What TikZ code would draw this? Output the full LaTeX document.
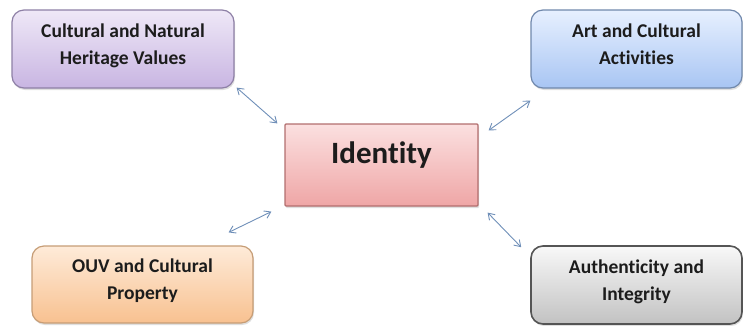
\documentclass[tikz,border=0pt]{standalone}
\usepackage{fontspec}
\setmainfont[RawFeature=-liga]{Carlito}
\usepackage{xcolor}
\usetikzlibrary{shadows,arrows.meta}

\definecolor{lilaTop}{HTML}{EFE8F7}
\definecolor{lilaBot}{HTML}{C8B5E2}
\definecolor{lilaLine}{HTML}{8E80A6}
\definecolor{azulTop}{HTML}{E7F0FF}
\definecolor{azulBot}{HTML}{A8C5F3}
\definecolor{azulLine}{HTML}{7088AC}
\definecolor{rosaTop}{HTML}{FBE0E0}
\definecolor{rosaBot}{HTML}{EFA6A6}
\definecolor{rosaLine}{HTML}{B26E6E}
\definecolor{naraTop}{HTML}{FEEBD9}
\definecolor{naraBot}{HTML}{F8C190}
\definecolor{naraLine}{HTML}{C69D76}
\definecolor{grisTop}{HTML}{F8F8F8}
\definecolor{grisBot}{HTML}{C2C2C2}
\definecolor{grisLine}{HTML}{555555}
\definecolor{flecha}{HTML}{6F8FB8}
\definecolor{texto}{HTML}{1C1C1C}

\begin{document}
\begin{tikzpicture}[x=1pt,y=-1pt,
    caja/.style={rectangle, rounded corners=12pt, draw, line width=1.2pt,
        align=center, text=texto, text depth=10pt, font=\bfseries\fontsize{19.5}{27}\selectfont,
        drop shadow={opacity=0.25, shadow xshift=1pt, shadow yshift=-2pt}},
    enlace/.style={{Straight Barb[length=6pt,width=8pt]}-{Straight Barb[length=6pt,width=8pt]}, flecha, line width=0.9pt}]
        \useasboundingbox (0,0) rectangle (743,325);

        \node (identidad) [caja, rounded corners=1pt, draw=rosaLine, top color=rosaTop, bottom color=rosaBot, minimum width=193pt, minimum height=82pt, text depth=25pt, font=\bfseries\fontsize{31}{33}\selectfont] at (381.5,165) {Identity};
        \node (valores) [caja, draw=lilaLine, top color=lilaTop, bottom color=lilaBot, minimum width=222pt, minimum height=78pt] at (123,49) {Cultural and Natural\\Heritage Values};
        \node (arte) [caja, draw=azulLine, top color=azulTop, bottom color=azulBot, minimum width=211pt, minimum height=78pt] at (636.5,49) {Art and Cultural\\Activities};
        \node (ouv) [caja, draw=naraLine, top color=naraTop, bottom color=naraBot, minimum width=221pt, minimum height=77pt] at (142.5,284.5) {OUV and Cultural\\Property};
        \node (autent) [caja, draw=grisLine, line width=1.6pt, top color=grisTop, bottom color=grisBot, minimum width=211pt, minimum height=78pt] at (636.5,285) {Authenticity and\\Integrity};

        \draw[enlace] ([shift={(2,-1)}]valores.south east) -- ([shift={(-7,0)}]identidad.north west);
        \draw[enlace] ([shift={(0,12)}]arte.south west) -- ([shift={(10,7)}]identidad.north east);
        \draw[enlace] ([shift={(-25,-13)}]ouv.north east) -- ([shift={(-13,5)}]identidad.south west);
        \draw[enlace] ([shift={(9,6)}]identidad.south east) -- ([shift={(-9,2)}]autent.north west);
    \end{tikzpicture}
\end{document}
